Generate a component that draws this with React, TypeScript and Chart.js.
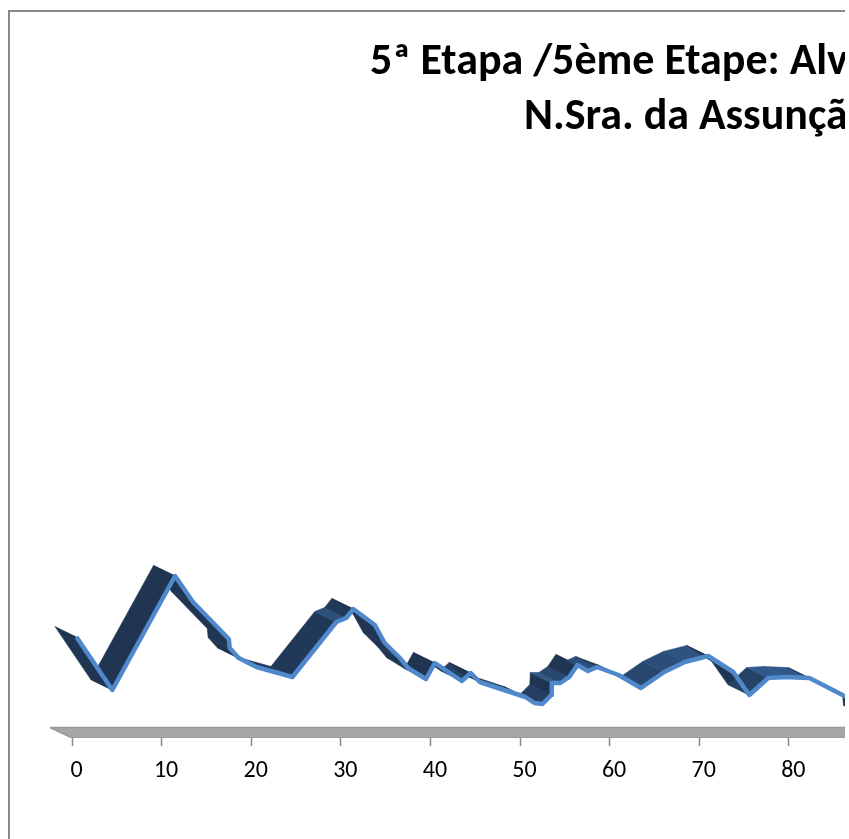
import React, { useEffect, useRef } from "react";
import { Chart, registerables } from "chart.js";

Chart.register(...registerables);

const titleLines = ["5ª Etapa /5ème Etape: Alv", "N.Sra. da Assunção"];
const distance = [0.5, 4.5, 11.5, 13.5, 17.5, 17.6, 18.6, 20.6, 24.6, 29.5, 30.6, 31.4, 33.8, 34.9, 36.6, 37.5, 39.5, 40.5, 43.5, 44.5, 45.5, 50.6, 51.6, 52.5, 53.5, 53.55, 54.5, 55.5, 56.4, 57.6, 58.6, 61, 63.5, 66.1, 68.4, 71, 73.8, 75.6, 77.7, 79.6, 82.3, 86, 88.4, 88.5];
const altitude = [101, 48, 162, 136, 99, 90, 80, 71, 61, 116, 120, 129, 113, 95, 80, 70, 59, 75, 57, 65, 56, 41, 35, 34, 43, 55, 55, 61, 73, 67, 71, 63, 50, 66, 76, 82, 66, 43, 60, 61, 60, 43, 33, 22];
const xTicks = [0, 10, 20, 30, 40, 50, 60, 70, 80];
const floorX = [-2.45, 90, 90, 0];
const floorY = [10.5, 10.5, 0, 0];

const DEPTH_X = -2.4;
const DEPTH_Y = 10.5;
const FONT = "Carlito, Lato, sans-serif";

function shade(dx: number, dy: number) {
  const s = dy / (dx * 8.96);
  const t = s < -0.1 ? 0 : Math.max(0, 1 - Math.abs(s) / 1.4);
  const mix = (a: number, b: number) => Math.round(a + (b - a) * t);
  return `rgb(${mix(31, 49)},${mix(53, 90)},${mix(82, 140)})`;
}

function ribbonDatasets() {
  const out: any[] = [];
  for (let i = distance.length - 2; i >= 0; i--) {
    const x1 = distance[i], x2 = distance[i + 1], y1 = altitude[i], y2 = altitude[i + 1];
    const color = shade(x2 - x1, y2 - y1);
    out.push({
      data: [
        { x: x1, y: y1 },
        { x: x2, y: y2 },
        { x: x2 + DEPTH_X, y: y2 + DEPTH_Y },
        { x: x1 + DEPTH_X, y: y1 + DEPTH_Y },
        { x: x1, y: y1 },
      ],
      showLine: true,
      fill: "shape",
      backgroundColor: color,
      borderColor: color,
      borderWidth: 0.6,
      pointRadius: 0,
      tension: 0,
    });
  }
  return out;
}

const framePlugin = {
  id: "frame",
  beforeDraw(chart: any) {
    const { ctx, width, height } = chart;
    ctx.save();
    ctx.fillStyle = "#ffffff";
    ctx.fillRect(0, 0, width, height);
    ctx.fillStyle = "#8a8a8a";
    ctx.fillRect(8, 10, width - 8, 2);
    ctx.fillRect(8, 10, 2, height - 10);
    ctx.restore();
  },
  afterDraw(chart: any) {
    const { ctx } = chart;
    ctx.save();
    ctx.fillStyle = "#000000";
    ctx.font = `bold 44px ${FONT}`;
    ctx.textAlign = "left";
    ctx.textBaseline = "alphabetic";
    ctx.fillText(titleLines[0], 370, 74);
    ctx.fillText(titleLines[1], 524, 129);
    ctx.restore();
  },
};

export default function App() {
  const ref = useRef<HTMLCanvasElement>(null);
  useEffect(() => {
    const chart = new Chart(ref.current!, {
      type: "scatter",
      plugins: [framePlugin],
      data: {
        datasets: [
          {
            label: "Altitude",
            data: distance.map((x, i) => ({ x, y: altitude[i] })),
            showLine: true,
            borderColor: "#5088cc",
            borderWidth: 4.5,
            borderJoinStyle: "round",
            pointRadius: 0,
            tension: 0,
          },
          ...ribbonDatasets(),
          {
            label: "Floor",
            data: floorX.map((x, i) => ({ x, y: floorY[i] })).concat([{ x: floorX[0], y: floorY[0] }]),
            showLine: true,
            fill: "shape",
            backgroundColor: "#a6a6a6",
            borderColor: "#989898",
            borderWidth: 1.5,
            pointRadius: 0,
          },
        ] as any,
      },
      options: {
        animation: false,
        responsive: false,
        layout: { padding: 0 },
        plugins: { legend: { display: false }, title: { display: false }, tooltip: { enabled: false } },
        scales: {
          x: {
            type: "linear",
            min: -72 / 8.96,
            max: (845 - 72) / 8.96,
            afterBuildTicks: (s: any) => {
              s.ticks = xTicks.map((value) => ({ value }));
            },
            afterFit: (s: any) => {
              s.height = 101;
            },
            border: { display: false },
            grid: { drawOnChartArea: false, drawTicks: true, tickLength: 8, tickColor: "#8a8a8a", tickWidth: 1.5 },
            ticks: { color: "#000000", font: { family: FONT, size: 24 }, maxRotation: 0, padding: 11, labelOffset: 4.5 },
          },
          y: { type: "linear", display: false, min: 0, max: 738 },
        },
      } as any,
    });
    return () => chart.destroy();
  }, []);
  return (
    <div style={{ position: "absolute", left: 0, top: 0, width: 845, height: 839, overflow: "hidden" }}>
      <canvas ref={ref} width={845} height={839} style={{ display: "block" }} />
    </div>
  );
}
